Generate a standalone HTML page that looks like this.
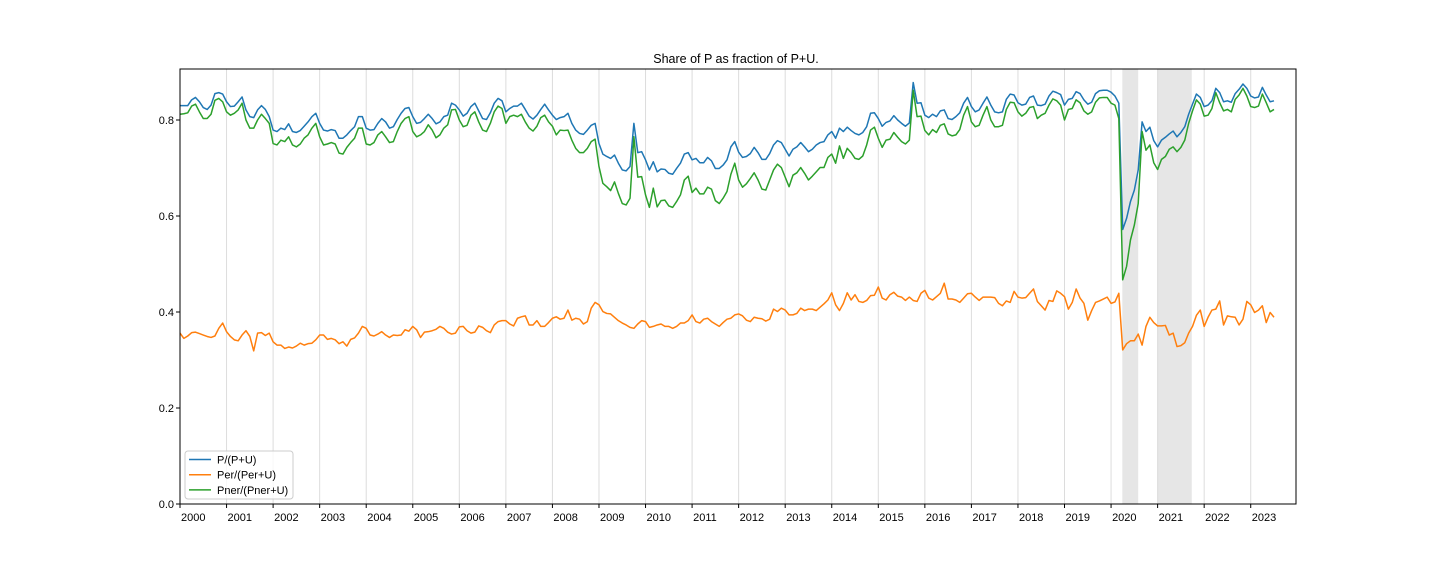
<!DOCTYPE html>
<html><head><meta charset="utf-8"><style>
html,body{margin:0;padding:0;background:#fff;}
svg{display:block;font-family:"Liberation Sans","DejaVu Sans",sans-serif;}
</style></head><body>
<svg id="chart" width="1440" height="576" viewBox="0 0 1440 576" xmlns="http://www.w3.org/2000/svg">
<rect x="0" y="0" width="1440" height="576" fill="#fff"/>
<text x="736" y="63" text-anchor="middle" font-size="12.5" fill="#000">Share of P as fraction of P+U.</text>
<g id="shades"></g>
<g id="grid"></g>
<g id="series"></g>
<rect x="180" y="69" width="1116" height="435" fill="none" stroke="#000" stroke-width="1"/>
<g id="yaxis"></g>
<g id="xaxis"></g>
<g id="legend"></g>
</svg>
<script>
const startYear = 1999, startMonth = 9;
const yTicks = [0.0, 0.2, 0.4, 0.6, 0.8];
const yTickLabels = ["0.0","0.2","0.4","0.6","0.8"];
const xTickLabels = ["2000","2001","2002","2003","2004","2005","2006","2007","2008","2009","2010","2011","2012","2013","2014","2015","2016","2017","2018","2019","2020","2021","2022","2023"];
const shadeRanges = [[242.9, 247], [252, 260.8]];
const seriesNames = ["P/(P+U)","Per/(Per+U)","Pner/(Pner+U)"];
const seriesColors = ["#1f77b4","#ff7f0e","#2ca02c"];
const pShare = [
.830,.830,.830,.842,.847,.838,.826,.822,.831,.855,.857,.854,.838,.828,.829,.838,.848,.821,.807,.805,.821,.830,.822,.807,
.779,.776,.783,.780,.792,.776,.774,.778,.787,.796,.807,.814,.793,.779,.777,.780,.778,.762,.762,.769,.778,.786,.807,.807,
.783,.779,.780,.793,.803,.796,.783,.786,.801,.814,.824,.826,.807,.793,.795,.803,.812,.803,.792,.796,.807,.810,.835,.831,
.821,.808,.814,.828,.835,.819,.803,.801,.815,.835,.845,.840,.817,.824,.829,.829,.835,.822,.808,.802,.810,.822,.833,.821,
.810,.801,.805,.807,.814,.793,.779,.772,.770,.779,.789,.793,.751,.729,.724,.720,.727,.710,.696,.694,.703,.793,.732,.734,
.717,.696,.713,.692,.698,.697,.689,.687,.699,.710,.729,.732,.717,.720,.711,.711,.722,.715,.699,.699,.706,.717,.744,.755,
.733,.722,.724,.730,.743,.732,.718,.718,.730,.748,.757,.753,.739,.725,.739,.744,.753,.744,.734,.739,.748,.753,.755,.769,
.776,.762,.783,.776,.785,.778,.772,.769,.774,.786,.814,.815,.803,.787,.795,.798,.809,.800,.793,.787,.794,.878,.835,.836,
.810,.805,.812,.807,.819,.821,.803,.801,.807,.815,.835,.847,.828,.817,.821,.835,.848,.831,.817,.815,.817,.843,.854,
.852,.836,.831,.833,.847,.850,.831,.830,.833,.850,.860,.857,.853,.831,.843,.845,.859,.855,.842,.833,.837,.855,.861,.862,
.862,.858,.850,.835,.572,.595,.630,.654,.696,.796,.776,.785,.757,.744,.758,.764,.771,.777,.765,.774,.786,.812,.833,.854,
.847,.828,.831,.840,.866,.857,.838,.840,.837,.855,.864,.875,.866,.850,.846,.848,.868,.852,.838,.840];
const perShare = [
.356,.345,.350,.357,.358,.355,.352,.349,.347,.350,.366,.377,.359,.349,.342,.340,.352,.361,.349,.319,.356,.357,.351,.356,
.338,.331,.331,.324,.327,.325,.329,.335,.331,.334,.335,.342,.352,.352,.343,.345,.342,.334,.338,.329,.343,.346,.356,.370,
.366,.352,.350,.354,.359,.352,.347,.352,.351,.352,.363,.360,.370,.363,.347,.358,.359,.361,.364,.370,.366,.358,.354,.356,
.369,.370,.361,.356,.358,.371,.368,.361,.357,.373,.380,.382,.382,.375,.371,.387,.390,.392,.373,.373,.382,.370,.370,.378,
.387,.390,.385,.387,.404,.383,.387,.385,.375,.380,.408,.420,.415,.401,.397,.396,.389,.382,.377,.373,.368,.366,.375,.382,
.380,.368,.370,.373,.375,.370,.370,.366,.370,.377,.377,.382,.394,.380,.377,.385,.387,.380,.375,.370,.378,.385,.387,.394,
.396,.392,.383,.380,.389,.387,.386,.381,.385,.406,.401,.408,.404,.394,.394,.397,.408,.403,.406,.406,.403,.410,.417,.425,
.440,.415,.403,.418,.440,.425,.436,.422,.420,.424,.434,.435,.452,.429,.425,.436,.441,.433,.431,.424,.431,.424,.422,.439,
.445,.429,.425,.432,.439,.460,.427,.427,.425,.420,.429,.438,.439,.431,.424,.431,.431,.431,.430,.418,.413,.423,.420,
.443,.431,.429,.430,.439,.448,.422,.413,.404,.424,.422,.444,.439,.432,.406,.420,.448,.429,.418,.383,.403,.420,.423,.427,
.431,.418,.421,.439,.321,.334,.340,.340,.354,.331,.370,.389,.378,.371,.371,.372,.352,.356,.328,.330,.336,.356,.370,.393,
.404,.370,.389,.404,.406,.423,.373,.392,.390,.389,.373,.385,.422,.415,.399,.404,.413,.378,.399,.389];
const pnerShare = [
.812,.813,.815,.829,.833,.817,.803,.803,.812,.841,.845,.838,.817,.810,.814,.821,.835,.800,.783,.783,.800,.812,.803,.793,
.751,.748,.758,.755,.765,.748,.744,.750,.762,.769,.783,.793,.765,.748,.750,.753,.750,.731,.729,.743,.753,.762,.783,.783,
.750,.748,.753,.769,.776,.765,.753,.755,.776,.793,.803,.807,.776,.765,.769,.776,.790,.779,.763,.769,.783,.790,.821,.822,
.800,.786,.789,.810,.817,.796,.779,.776,.793,.817,.829,.824,.793,.807,.810,.807,.812,.796,.783,.777,.787,.805,.810,.796,
.787,.769,.779,.778,.779,.758,.741,.732,.732,.741,.755,.760,.703,.668,.661,.653,.671,.647,.626,.623,.637,.765,.681,.682,
.644,.618,.658,.619,.632,.633,.621,.618,.630,.644,.675,.683,.649,.658,.646,.646,.660,.656,.632,.626,.637,.651,.687,.710,
.675,.660,.667,.678,.690,.675,.656,.654,.675,.696,.708,.701,.681,.661,.685,.690,.701,.689,.675,.683,.692,.701,.701,.722,
.729,.710,.746,.720,.741,.732,.720,.718,.725,.748,.779,.785,.762,.743,.758,.760,.774,.764,.755,.750,.758,.862,.807,.808,
.778,.769,.780,.774,.789,.792,.771,.767,.769,.780,.810,.828,.796,.786,.789,.810,.828,.800,.786,.786,.789,.822,.837,
.836,.817,.808,.814,.826,.828,.803,.810,.814,.831,.844,.840,.831,.800,.822,.824,.842,.836,.819,.812,.817,.837,.846,.847,
.847,.835,.831,.803,.467,.495,.550,.581,.626,.776,.737,.748,.711,.697,.718,.724,.739,.744,.734,.743,.758,.793,.819,.842,
.833,.808,.810,.824,.857,.836,.819,.822,.817,.843,.852,.866,.850,.828,.826,.829,.854,.836,.817,.822];

const NS = "http://www.w3.org/2000/svg";
const X0 = 180, X1 = 1296, Y0 = 504, Y1 = 69, YMAX = 0.90625;
const N = pShare.length;
function xOf(i){ return X0 + i * (1274 - X0) / (N - 1); }
function yOf(v){ return Y0 - v / YMAX * (Y0 - Y1); }
function mk(tag, attrs, parent){ const e = document.createElementNS(NS, tag); for (const k in attrs) e.setAttribute(k, attrs[k]); parent.appendChild(e); return e; }

const shades = document.getElementById('shades');
shadeRanges.forEach(r => {
  const e = mk('rect', {x: xOf(r[0]), y: Y1, width: xOf(r[1]) - xOf(r[0]), height: Y0 - Y1, fill: '#e6e6e6'}, shades);
  
  
});
const grid = document.getElementById('grid');
const xaxis = document.getElementById('xaxis');
xTickLabels.forEach((lab, k) => {
  const x = xOf(12 * k);
  const g = mk('line', {x1: x, x2: x, y1: Y1, y2: Y0, stroke: '#dcdcdc', 'stroke-width': 1}, grid);
  
  
  const t = mk('line', {x1: x, x2: x, y1: Y0, y2: Y0 + 4, stroke: '#000', 'stroke-width': 1}, xaxis);
  
  
  const tx = mk('text', {x: x + 1, y: Y0 + 17, 'font-size': 11, fill: '#000'}, xaxis);
  tx.textContent = lab;
  
  
});
const yaxis = document.getElementById('yaxis');
yTicks.forEach((v, k) => {
  const y = yOf(v);
  const t = mk('line', {x1: X0 - 4, x2: X0, y1: y, y2: y, stroke: '#000', 'stroke-width': 1}, yaxis);
  
  
  const tx = mk('text', {x: X0 - 6, y: y + 4, 'font-size': 11, 'text-anchor': 'end', fill: '#000'}, yaxis);
  tx.textContent = yTickLabels[k];
  
  
});
const series = document.getElementById('series');
const allSeries = [pShare, perShare, pnerShare];
const seriesKeys = ['p-share-line', 'per-share-line', 'pner-share-line'];
allSeries.forEach((arr, s) => {
  const d = arr.map((v, i) => (i ? 'L' : 'M') + xOf(i).toFixed(2) + ',' + yOf(v).toFixed(2)).join(' ');
  const p = mk('path', {d: d, fill: 'none', stroke: seriesColors[s], 'stroke-width': 1.5, 'stroke-linejoin': 'round'}, series);
  
  
});
const legend = document.getElementById('legend');
const lb = mk('rect', {x: 185, y: 451, width: 108, height: 48, rx: 3, fill: '#fff', 'fill-opacity': 0.8, stroke: '#ccc'}, legend);


seriesNames.forEach((nm, s) => {
  const y = 459.5 + s * 15.2;
  const l = mk('line', {x1: 189, x2: 211, y1: y, y2: y, stroke: seriesColors[s], 'stroke-width': 1.5}, legend);
  
  
  const t = mk('text', {x: 217, y: y + 4, 'font-size': 11, fill: '#000'}, legend);
  t.textContent = nm;
  
  
});
</script>
</body></html>
